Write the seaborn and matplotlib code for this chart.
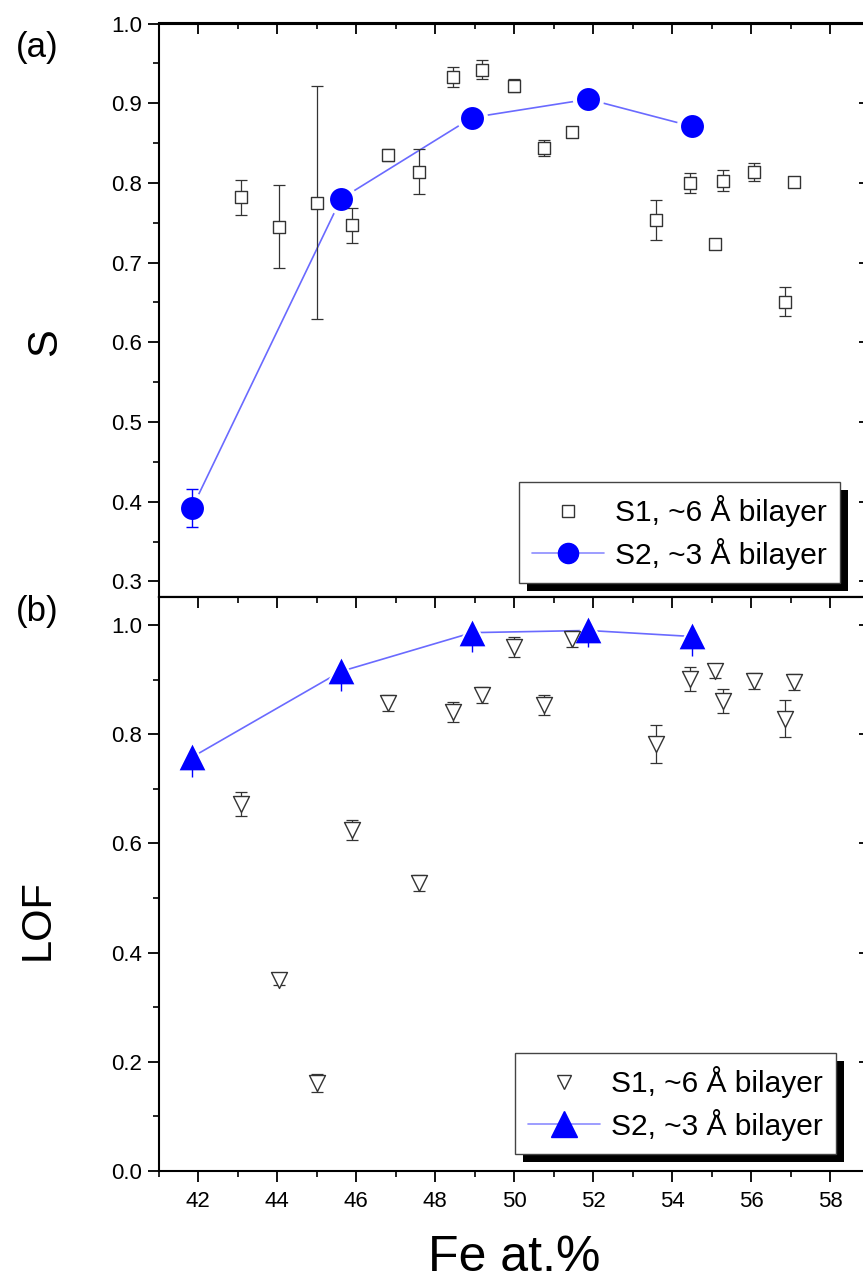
import matplotlib
matplotlib.use('Agg')
import matplotlib.pyplot as plt
import seaborn as sns
from matplotlib.lines import Line2D
from matplotlib.patches import Rectangle
from matplotlib.transforms import IdentityTransform
from matplotlib.ticker import MultipleLocator

# --- data ---
fe_s1 = [43.1, 44.06, 45.0, 45.9, 46.8, 47.6, 48.45, 49.2, 50.0, 50.75,
         51.47, 53.6, 54.45, 55.1, 55.28, 56.08, 56.87, 57.1]
s_s1 = [0.782, 0.745, 0.775, 0.747, 0.835, 0.814, 0.933, 0.942, 0.922, 0.844,
        0.864, 0.753, 0.800, 0.723, 0.803, 0.814, 0.651, 0.801]
s_s1_err = [0.022, 0.052, 0.146, 0.022, 0.007, 0.028, 0.013, 0.012, 0.008, 0.010,
            0.004, 0.025, 0.013, 0.003, 0.013, 0.011, 0.018, 0.005]
lof_s1 = [0.672, 0.349, 0.161, 0.625, 0.857, 0.527, 0.841, 0.872, 0.960, 0.853,
          0.974, 0.782, 0.902, 0.915, 0.860, 0.898, 0.828, 0.896]
lof_s1_err = [0.022, 0.008, 0.017, 0.018, 0.015, 0.015, 0.018, 0.015, 0.018, 0.018,
              0.015, 0.035, 0.022, 0.012, 0.022, 0.015, 0.034, 0.015]

fe_s2 = [41.85, 45.62, 48.94, 51.88, 54.5]
s_s2 = [0.392, 0.780, 0.882, 0.905, 0.871]
s_s2_err = [0.024, 0.006, 0.006, 0.006, 0.006]
lof_s2 = [0.758, 0.915, 0.986, 0.990, 0.979]
lof_s2_err_low = [0.036, 0.035, 0.035, 0.030, 0.035]
lof_s2_err_high = [0.0, 0.0, 0.0, 0.0, 0.0]

labels = ["S1, ~6 Å bilayer", "S2, ~3 Å bilayer"]
panel_tags = ["(a)", "(b)"]

W, H = 863, 1283
line_c = '#6a6aff'
grey = '#333333'

sns.set_theme(style='ticks', rc={'axes.edgecolor': 'black', 'xtick.color': 'black',
                                 'ytick.color': 'black', 'axes.linewidth': 1.5})
plt.rcParams['font.family'] = ['Liberation Sans', 'DejaVu Sans']
plt.rcParams['text.color'] = 'black'
plt.rcParams['xtick.labelcolor'] = 'black'
plt.rcParams['ytick.labelcolor'] = 'black'

fig = plt.figure(figsize=(W / 100, H / 100), dpi=100)
ax1 = fig.add_axes([158.5 / W, 1 - 597 / H, 711 / W, 573.5 / H])
ax2 = fig.add_axes([158.5 / W, 1 - 1171 / H, 711 / W, 574 / H])


def style_axis(ax, ylo, yhi, ymaj, ymin, show_x):
    ax.set_xlim(41, 59)
    ax.set_ylim(ylo, yhi)
    ax.xaxis.set_major_locator(MultipleLocator(2))
    ax.xaxis.set_minor_locator(MultipleLocator(1))
    ax.yaxis.set_major_locator(MultipleLocator(ymaj))
    ax.yaxis.set_minor_locator(MultipleLocator(ymin))
    ax.yaxis.set_major_formatter(matplotlib.ticker.FormatStrFormatter('%.1f'))
    ax.tick_params(which='major', direction='out', length=8, width=1.3, labelsize=16)
    ax.tick_params(which='minor', direction='out', length=4.5, width=1.2)
    ax.tick_params(axis='x', pad=6.5, bottom=show_x, labelbottom=show_x)
    ax.tick_params(axis='y', pad=4)
    if not show_x:
        ax.tick_params(axis='x', which='minor', bottom=False)
    top = ax.secondary_xaxis('top')
    top.xaxis.set_major_locator(MultipleLocator(2))
    top.xaxis.set_minor_locator(MultipleLocator(1))
    top.tick_params(which='major', direction='in', length=8, width=1.3, labeltop=False)
    top.tick_params(which='minor', direction='in', length=4.5, width=1.2)
    right = ax.secondary_yaxis('right')
    right.yaxis.set_major_locator(MultipleLocator(ymaj))
    right.yaxis.set_minor_locator(MultipleLocator(ymin))
    right.tick_params(which='major', direction='in', length=8, width=1.3, labelright=False)
    right.tick_params(which='minor', direction='in', length=4.5, width=1.2)
    for sp in ax.spines.values():
        sp.set_linewidth(1.5)
        sp.set_color('black')


def draw_panel(ax, y1, e1, y2, e2, m1, m2, ms1, ms2, cap2):
    # S2 connecting line with Origin-style gaps around the markers
    sns.lineplot(x=fe_s2, y=y2, color=line_c, linewidth=1.2, sort=False,
                 estimator=None, ax=ax, zorder=1)
    ax.plot(fe_s2, y2, ls='none', marker=m2, ms=ms2 + 5, color='white', zorder=2)
    ax.errorbar(fe_s1, y1, yerr=e1, fmt='none', ecolor=grey, elinewidth=0.9,
                capsize=4.3, capthick=0.9, zorder=3)
    sns.scatterplot(x=fe_s1, y=y1, marker=m1, s=ms1 ** 2, color='white',
                    edgecolor=grey, linewidth=1.0, ax=ax, zorder=4)
    ax.errorbar(fe_s2, y2, yerr=e2, fmt='none', ecolor='blue', elinewidth=1.0,
                capsize=cap2, capthick=1.0, zorder=4.5)
    sns.scatterplot(x=fe_s2, y=y2, marker=m2, s=ms2 ** 2, color='blue',
                    edgecolor='blue', linewidth=0, ax=ax, zorder=5)


def add_legend(ax, m1, m2, ms1, ms2, x0, y0):
    handles = [Line2D([], [], ls='none', marker=m1, ms=ms1, mfc='white', mec=grey, mew=1.0),
               Line2D([], [], color='#8c8cff', lw=1.2, marker=m2, ms=ms2, mfc='blue', mec='blue')]
    leg = ax.legend(handles, labels, loc='upper left',
                    bbox_to_anchor=(x0 / W, 1 - y0 / H), bbox_transform=fig.transFigure,
                    frameon=True, fancybox=False, framealpha=1, edgecolor='#444444',
                    borderaxespad=0, borderpad=0.45, labelspacing=0.35,
                    handlelength=2.4, handletextpad=0.35, fontsize=21.5, numpoints=1)
    leg.get_frame().set_linewidth(1.0)
    return leg


style_axis(ax1, 0.2804, 1.0, 0.1, 0.05, False)
style_axis(ax2, 0.0, 1.0513, 0.2, 0.1, True)

draw_panel(ax1, s_s1, s_s1_err, s_s2, s_s2_err, 's', 'o', 9, 16.5, 4.3)
draw_panel(ax2, lof_s1, lof_s1_err, lof_s2, [lof_s2_err_low, lof_s2_err_high],
           'v', '^', 11.5, 18.5, 0)

for ax in (ax1, ax2):
    ax.set_xlabel('')
    ax.set_ylabel('')

leg1 = add_legend(ax1, 's', 'o', 8.5, 14.5, 519, 481.7)
leg2 = add_legend(ax2, 'v', '^', 10, 19, 515, 1053)

# hard black drop shadow behind each legend
fig.canvas.draw()
renderer = fig.canvas.get_renderer()
for ax, leg in [(ax1, leg1), (ax2, leg2)]:
    bb = leg.get_window_extent(renderer)
    shadow = Rectangle((bb.x0 + 8, bb.y0 - 8), bb.width, bb.height,
                       transform=IdentityTransform(), facecolor='black',
                       edgecolor='none', zorder=leg.get_zorder() - 0.1, clip_on=False)
    ax.add_artist(shadow)

fig.text(37 / W, 1 - 48 / H, panel_tags[0], fontsize=25, ha='center', va='center')
fig.text(37 / W, 1 - 612 / H, panel_tags[1], fontsize=25, ha='center', va='center')
fig.text(45 / W, 1 - 342 / H, 'S', fontsize=30, rotation=90, ha='center', va='center')
fig.text(38 / W, 1 - 920 / H, 'LOF', fontsize=30, rotation=90, ha='center', va='center')
fig.text(514 / W, 1 - 1258 / H, 'Fe at.%', fontsize=36, ha='center', va='center')

fig.savefig('out.png', dpi=100)
